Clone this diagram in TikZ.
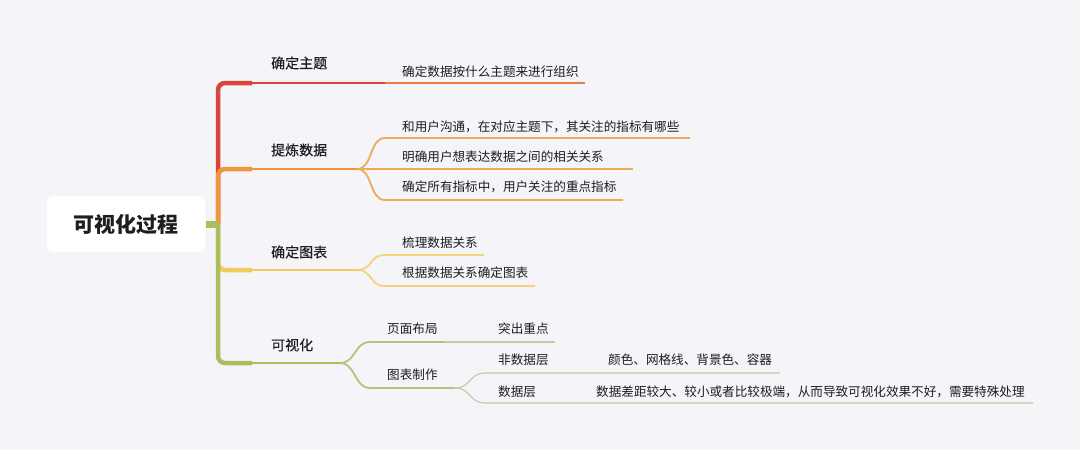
\documentclass[tikz,border=0pt]{standalone}
\usepackage{fontspec}
\setmainfont{Noto Sans CJK SC}
\newfontfamily\topicfont[FakeBold=0.4]{Noto Sans CJK SC}
\definecolor{bg}{HTML}{F4F4F9}
\definecolor{txt}{HTML}{1E1E1E}
\definecolor{cred}{HTML}{D9453A}
\definecolor{corange}{HTML}{F0963E}
\definecolor{cyellow}{HTML}{F2CB5E}
\definecolor{cgreen}{HTML}{A8BF5B}
\definecolor{lred}{HTML}{EC7A4E}
\definecolor{lorange}{HTML}{F2A957}
\definecolor{lyellow}{HTML}{F2D27A}
\definecolor{lgreen}{HTML}{B5C47A}
\definecolor{lgrey}{HTML}{C8CAA6}
\tikzset{
  rootbox/.style={fill=white, rounded corners=7pt, minimum width=159pt, minimum height=56pt, inner sep=0pt, font=\fontsize{21}{24}\selectfont\bfseries, text=txt},
  topic/.style={anchor=west, inner sep=0pt, font=\topicfont\fontsize{14}{16}\selectfont, text=txt},
  leaf/.style={anchor=west, inner sep=0pt, font=\fontsize{12.6}{15}\selectfont, text=txt},
  spine/.style={line width=4.5pt, rounded corners=7pt},
  tline/.style={line width=2.4pt},
  cline/.style={line width=1.8pt},
  gline/.style={line width=1.2pt},
}
\begin{document}
\begin{tikzpicture}[x=1pt,y=-1pt]
\fill[bg] (0,0) rectangle (1080,450);
\useasboundingbox (0,0) rectangle (1080,450);

% root
\node[rootbox] (root) at (126,224) {可视化过程};
\coordinate (hub) at (218,224);

% topic labels
\node[topic] (t1) at (271,63) {确定主题};
\node[topic] (t2) at (271,150) {提炼数据};
\node[topic] (t3) at (271,252) {确定图表};
\node[topic] (t4) at (271,345) {可视化};

% leaf labels
\node[leaf] (c11) at (402,72) {确定数据按什么主题来进行组织};
\node[leaf] (c21) at (402,127) {和用户沟通，在对应主题下，其关注的指标有哪些};
\node[leaf] (c22) at (402,157) {明确用户想表达数据之间的相关关系};
\node[leaf] (c23) at (402,187) {确定所有指标中，用户关注的重点指标};
\node[leaf] (c31) at (402,243) {梳理数据关系};
\node[leaf] (c32) at (402,273) {根据数据关系确定图表};
\node[leaf] (c41) at (387,329) {页面布局};
\node[leaf] (c42) at (387,375) {图表制作};
\node[leaf] (d41) at (498,329) {突出重点};
\node[leaf] (d42) at (498,360) {非数据层};
\node[leaf] (d43) at (498,392) {数据层};
\node[leaf] (f42) at (608,360) {颜色、网格线、背景色、容器};
\node[leaf] (f43) at (596,392) {数据差距较大、较小或者比较极端，从而导致可视化效果不好，需要特殊处理};

% coordinates of line ends
\coordinate (k1) at (252,83);  \coordinate (s1) at (385,83);  \coordinate (e11) at (585,83);
\coordinate (k2) at (252,169); \coordinate (s2) at (357,169);
\coordinate (a21) at (385,138); \coordinate (e21) at (690,138);
\coordinate (a22) at (385,169); \coordinate (e22) at (633,169);
\coordinate (a23) at (385,200); \coordinate (e23) at (623,200);
\coordinate (k3) at (252,270); \coordinate (s3) at (357,270);
\coordinate (a31) at (385,255); \coordinate (e31) at (484,255);
\coordinate (a32) at (385,286); \coordinate (e32) at (535,286);
\coordinate (k4) at (252,363); \coordinate (s4) at (340,363);
\coordinate (a41) at (370,342); \coordinate (m41) at (445,342); \coordinate (e41) at (555,342);
\coordinate (a42) at (370,388); \coordinate (s42) at (455,388);
\coordinate (a43) at (485,373); \coordinate (m43) at (580,373); \coordinate (e43) at (780,373);
\coordinate (a44) at (485,403); \coordinate (m44) at (590,403); \coordinate (e44) at (1033,403);

% spine branches (drawn in order so that the colours overlap as in the picture)
\draw[spine, cred] (hub) |- (k1);
\draw[spine, corange] (hub) |- (k2);
\draw[spine, cyellow] (hub) |- (k3);
\draw[spine, cgreen] (hub) |- (k4);
\draw[cgreen, line width=7pt] (root.east) -- (hub);

% topic underlines
\draw[tline, cred] (k1) -- (s1);
\draw[cline, lred] (s1) -- (e11);
\draw[tline, corange] (k2) -- (s2);
\draw[tline, cyellow] (k3) -- (s3);
\draw[tline, cgreen] (k4) -- (s4);

% children of 提炼数据
\draw[cline, lorange] (s2) .. controls +(16,0) and +(-16,0) .. (a21) -- (e21);
\draw[cline, lorange] (s2) -- (a22) -- (e22);
\draw[cline, lorange] (s2) .. controls +(16,0) and +(-16,0) .. (a23) -- (e23);

% children of 确定图表
\draw[cline, lyellow] (s3) .. controls +(16,0) and +(-16,0) .. (a31) -- (e31);
\draw[cline, lyellow] (s3) .. controls +(16,0) and +(-16,0) .. (a32) -- (e32);

% children of 可视化
\draw[cline, lgreen] (s4) .. controls +(16,0) and +(-16,0) .. (a41) -- (m41);
\draw[gline, lgrey] (m41) -- (e41);
\draw[cline, lgreen] (s4) .. controls +(16,0) and +(-16,0) .. (a42) -- (s42);
\draw[gline, lgrey] (s42) .. controls +(16,0) and +(-16,0) .. (a43) -- (m43) -- (e43);
\draw[gline, lgrey] (s42) .. controls +(16,0) and +(-16,0) .. (a44) -- (m44) -- (e44);
\end{tikzpicture}
\end{document}
